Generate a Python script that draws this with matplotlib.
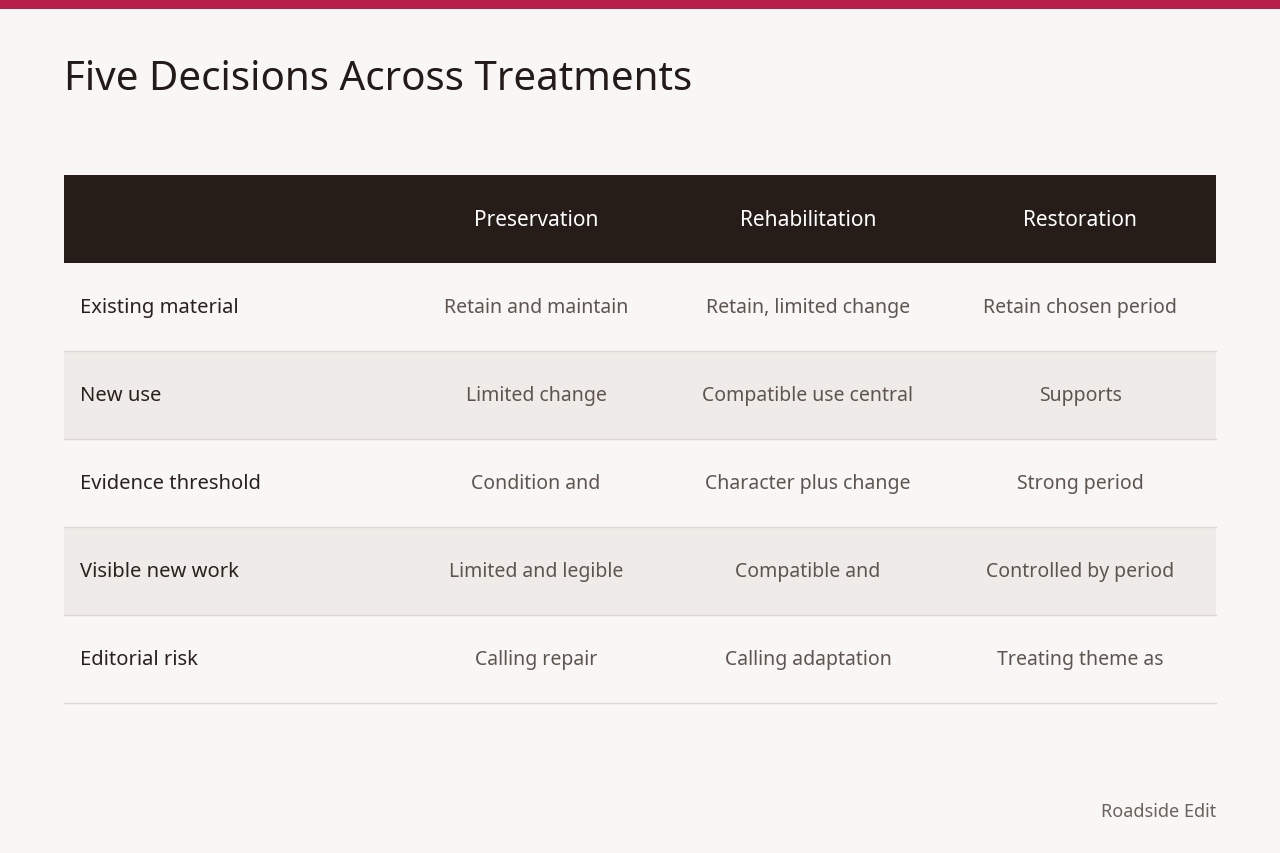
import matplotlib
matplotlib.use("Agg")
import matplotlib.pyplot as plt
from matplotlib.patches import Rectangle

title = "Five Decisions Across Treatments"
columns = ["Preservation", "Rehabilitation", "Restoration"]
rows = ["Existing material", "New use", "Evidence threshold", "Visible new work", "Editorial risk"]
preservation = ["Retain and maintain", "Limited change", "Condition and", "Limited and legible", "Calling repair"]
rehabilitation = ["Retain, limited change", "Compatible use central", "Character plus change", "Compatible and", "Calling adaptation"]
restoration = ["Retain chosen period", "Supports", "Strong period", "Controlled by period", "Treating theme as"]
footer = "Roadside Edit"

plt.rcParams['font.family'] = ['Noto Sans', 'DejaVu Sans']
W, H = 1280, 854
fig = plt.figure(figsize=(W/100, H/100), dpi=100, facecolor="#f8f7f5")
ax = fig.add_axes([0, 0, 1, 1])
ax.set_xlim(0, W); ax.set_ylim(H, 0); ax.axis("off")

ax.add_patch(Rectangle((0, 0), W, 10, color="#b81f48", lw=0))
ax.text(64, 80, title, fontsize=29, color="#231b17", va="center", ha="left")

left, right = 64, 1216
top, hh, rh = 176, 88, 88
col_x = [536, 808, 1080]
ax.add_patch(Rectangle((left, top), right-left, hh, color="#261d19", lw=0))
for x, c in zip(col_x, columns):
    ax.text(x, top+hh/2, c, fontsize=15, color="white", ha="center", va="center")

cells = list(zip(preservation, rehabilitation, restoration))
for i, (r, vals) in enumerate(zip(rows, cells)):
    y0 = top + hh + i*rh
    if i % 2 == 1:
        ax.add_patch(Rectangle((left, y0), right-left, rh, color="#efebe8", lw=0))
    ax.plot([left, right], [y0+rh, y0+rh], color="#dcd7d3", lw=1)
    yc = y0 + rh/2
    ax.text(80, yc, r, fontsize=14.5, color="#2a211d", ha="left", va="center")
    for x, v in zip(col_x, vals):
        ax.text(x, yc, v, fontsize=14, color="#5e554f", ha="center", va="center")

ax.text(1216, 812, footer, fontsize=13, color="#6b625c", ha="right", va="center")
fig.savefig("out.png", dpi=100, facecolor=fig.get_facecolor())
